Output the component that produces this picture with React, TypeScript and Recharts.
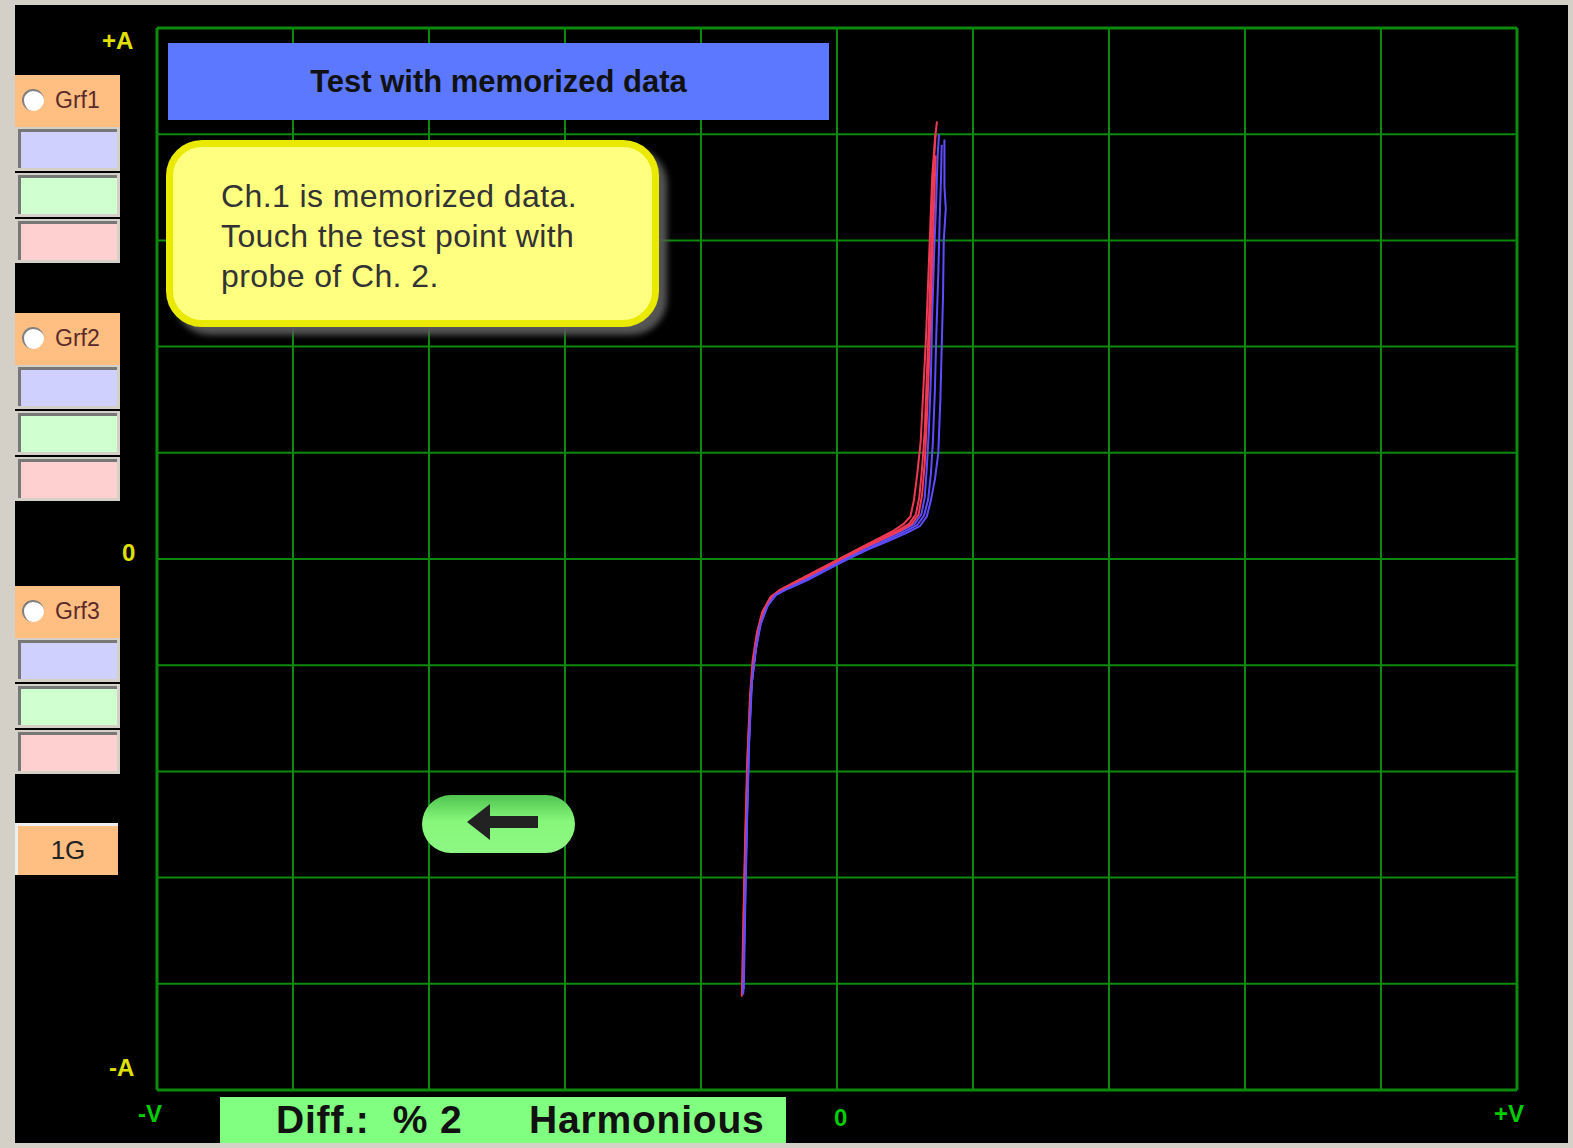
import React from 'react';
import { LineChart, Line, XAxis, YAxis, CartesianGrid, ReferenceLine } from 'recharts';

// grid runs 5 divisions each side of the origin
const GRID_TICKS = [-5, -4, -3, -2, -1, 0, 1, 2, 3, 4, 5];

// Ch.1 memorized traces (red), [V, A] in divisions
const red1: [number, number][] = [
  [-0.7, -4.12], [-0.69, -3.5], [-0.675, -2.6], [-0.66, -1.9], [-0.64, -1.3], [-0.62, -0.95],
  [-0.59, -0.7], [-0.55, -0.5], [-0.49, -0.36], [-0.42, -0.29], [-0.3, -0.21], [-0.15, -0.11],
  [0.0, -0.01], [0.15, 0.09], [0.3, 0.19], [0.42, 0.27], [0.49, 0.33], [0.54, 0.4], [0.565, 0.55],
  [0.59, 0.8], [0.615, 1.1], [0.635, 1.6], [0.655, 2.1], [0.67, 2.6], [0.685, 3.1], [0.7, 3.6],
  [0.72, 3.95], [0.735, 4.12],
];
const red2: [number, number][] = [
  [-0.69, -4.05], [-0.685, -3.3], [-0.67, -2.5], [-0.655, -1.8], [-0.635, -1.25], [-0.61, -0.9],
  [-0.58, -0.66], [-0.54, -0.48], [-0.48, -0.35], [-0.4, -0.28], [-0.28, -0.2], [-0.13, -0.1],
  [0.02, 0.0], [0.17, 0.1], [0.32, 0.19], [0.45, 0.27], [0.53, 0.33], [0.58, 0.42], [0.605, 0.58],
  [0.625, 0.85], [0.645, 1.2], [0.66, 1.7], [0.675, 2.2], [0.69, 2.8], [0.7, 3.3], [0.71, 3.7],
  [0.725, 4.0],
];
const red3: [number, number][] = [
  [-0.69, -4.0], [-0.68, -3.2], [-0.665, -2.3], [-0.65, -1.7], [-0.63, -1.2], [-0.6, -0.88],
  [-0.57, -0.64], [-0.53, -0.47], [-0.47, -0.35], [-0.39, -0.28], [-0.26, -0.2], [-0.11, -0.1],
  [0.04, 0.0], [0.19, 0.1], [0.34, 0.19], [0.47, 0.27], [0.55, 0.33], [0.6, 0.42], [0.625, 0.6],
  [0.645, 0.9], [0.66, 1.3], [0.675, 1.8], [0.69, 2.4], [0.705, 3.0], [0.715, 3.4], [0.725, 3.8],
];

// Ch.2 probe traces (blue)
const blue1: [number, number][] = [
  [-0.69, -4.08], [-0.68, -3.4], [-0.665, -2.5], [-0.65, -1.8], [-0.63, -1.2], [-0.6, -0.86],
  [-0.57, -0.63], [-0.52, -0.45], [-0.46, -0.34], [-0.38, -0.28], [-0.25, -0.2], [-0.1, -0.1],
  [0.05, 0.0], [0.2, 0.1], [0.35, 0.19], [0.48, 0.27], [0.57, 0.33], [0.62, 0.42], [0.645, 0.58],
  [0.66, 0.85], [0.675, 1.2], [0.69, 1.7], [0.7, 2.3], [0.715, 2.9], [0.73, 3.4], [0.74, 3.8],
  [0.75, 4.0],
];
const blue2: [number, number][] = [
  [-0.685, -4.05], [-0.675, -3.3], [-0.66, -2.4], [-0.645, -1.7], [-0.625, -1.15], [-0.595, -0.84],
  [-0.56, -0.61], [-0.51, -0.44], [-0.45, -0.34], [-0.36, -0.28], [-0.22, -0.2], [-0.07, -0.1],
  [0.08, 0.0], [0.23, 0.09], [0.38, 0.17], [0.52, 0.25], [0.61, 0.31], [0.66, 0.4], [0.69, 0.55],
  [0.72, 0.75], [0.745, 1.0], [0.76, 1.5], [0.77, 2.0], [0.78, 2.5], [0.785, 3.0], [0.8, 3.3],
  [0.79, 3.5], [0.79, 3.95],
];
const blue3: [number, number][] = [
  [-0.69, -4.1], [-0.678, -3.35], [-0.662, -2.45], [-0.648, -1.75], [-0.628, -1.18], [-0.598, -0.85],
  [-0.565, -0.62], [-0.515, -0.45], [-0.455, -0.34], [-0.37, -0.28], [-0.235, -0.2], [-0.085, -0.1],
  [0.065, 0.0], [0.215, 0.09], [0.365, 0.18], [0.5, 0.26], [0.59, 0.32], [0.64, 0.41], [0.67, 0.56],
  [0.69, 0.8], [0.705, 1.1], [0.72, 1.6], [0.73, 2.1], [0.745, 2.7], [0.755, 3.2], [0.765, 3.6],
  [0.77, 3.9],
];

const RED = '#f03a55';
const BLUE = '#5e4dff';
const GRID = '#0c8a0c';

const toPoints = (pts: [number, number][]) => pts.map(([v, i]) => ({ v, i }));

const traces = [
  { name: 'red1', pts: red1, color: RED },
  { name: 'blue1', pts: blue1, color: BLUE },
  { name: 'red2', pts: red2, color: RED },
  { name: 'blue2', pts: blue2, color: BLUE },
  { name: 'red3', pts: red3, color: RED },
  { name: 'blue3', pts: blue3, color: BLUE },
];

const labelFont = "'Liberation Sans', Arial, sans-serif";

const GrfGroup = ({ top, label }: { top: number; label: string }) => {
  const fields = ['#d0d0ff', '#d0ffd0', '#ffd0d0'];
  return (
    <>
      <div style={{ position: 'absolute', left: 15, top, width: 105, height: 52, background: '#ffbe82' }}>
        <div style={{
          position: 'absolute', left: 7, top: 14, width: 22, height: 22, borderRadius: '50%',
          background: '#fff', borderTop: '2px solid #808080', borderLeft: '2px solid #808080',
          boxSizing: 'border-box',
        }} />
        <span style={{ position: 'absolute', left: 40, top: 12, fontSize: 23, color: '#5a2a2a', fontFamily: labelFont }}>
          {label}
        </span>
      </div>
      {fields.map((c, k) => (
        <div key={c} style={{ position: 'absolute', left: 15, top: top + 52 + k * 46, width: 105, height: 44, background: '#d4d0c8' }}>
          <div style={{
            position: 'absolute', left: 3, top: 2, width: 99, height: 39, background: c,
            borderTop: '3px solid #777', borderLeft: '3px solid #777', boxSizing: 'border-box',
          }} />
        </div>
      ))}
    </>
  );
};

const axisText = (color: string) => ({
  position: 'absolute' as const, fontFamily: labelFont, fontWeight: 'bold' as const, fontSize: 24,
  color, lineHeight: '24px',
});

export default function App() {
  return (
    <div style={{ position: 'relative', width: 1573, height: 1148, background: '#d4d0c8', overflow: 'hidden', fontFamily: labelFont }}>
      <style>{'body{margin:0}'}</style>
      <div style={{ position: 'absolute', left: 15, top: 5, width: 1553, height: 1138, background: '#000' }} />

      <div style={{ position: 'absolute', left: 0, top: 0 }}>
        <LineChart width={1573} height={1148} margin={{ top: 28, left: 157, right: 56, bottom: 58 }}>
          <XAxis type="number" dataKey="v" domain={[-5, 5]} ticks={GRID_TICKS} hide />
          <YAxis type="number" dataKey="i" domain={[-5, 5]} ticks={GRID_TICKS} hide />
          <CartesianGrid stroke={GRID} strokeWidth={2} />
          <ReferenceLine x={-5} stroke={GRID} strokeWidth={3} />
          <ReferenceLine x={5} stroke={GRID} strokeWidth={3} />
          <ReferenceLine y={-5} stroke={GRID} strokeWidth={3} />
          <ReferenceLine y={5} stroke={GRID} strokeWidth={3} />
          {traces.map((t) => (
            <Line
              key={t.name}
              data={toPoints(t.pts)}
              dataKey="i"
              type="linear"
              stroke={t.color}
              strokeWidth={2}
              dot={false}
              isAnimationActive={false}
            />
          ))}
        </LineChart>
      </div>

      {/* axis captions */}
      <div style={{ ...axisText('#e0e000'), left: 102, top: 29 }}>+A</div>
      <div style={{ ...axisText('#e0e000'), left: 122, top: 541 }}>0</div>
      <div style={{ ...axisText('#e0e000'), left: 109, top: 1056 }}>-A</div>
      <div style={{ ...axisText('#00cc00'), left: 138, top: 1102 }}>-V</div>
      <div style={{ ...axisText('#00cc00'), left: 834, top: 1106 }}>0</div>
      <div style={{ ...axisText('#00cc00'), left: 1494, top: 1102 }}>+V</div>

      {/* left panel */}
      <GrfGroup top={75} label="Grf1" />
      <GrfGroup top={313} label="Grf2" />
      <GrfGroup top={586} label="Grf3" />
      <div style={{
        position: 'absolute', left: 15, top: 823, width: 103, height: 52, background: '#ffbe82',
        borderTop: '3px solid #eee', borderLeft: '3px solid #eee', boxSizing: 'border-box',
        display: 'flex', alignItems: 'center', justifyContent: 'center', fontSize: 26, color: '#222',
      }}>1G</div>

      {/* title */}
      <div style={{
        position: 'absolute', left: 168, top: 43, width: 661, height: 77, background: '#5b78ff',
        display: 'flex', alignItems: 'center', justifyContent: 'center',
        fontWeight: 'bold', fontSize: 31, color: '#111',
      }}>Test with memorized data</div>

      {/* note */}
      <div style={{
        position: 'absolute', left: 166, top: 140, width: 493, height: 187, boxSizing: 'border-box',
        background: '#ffff80', border: '7px solid #eaea00', borderRadius: 36,
        boxShadow: '8px 8px 6px rgba(90,90,90,0.95)',
        padding: '29px 0 0 48px', fontSize: 32, letterSpacing: 0.4, lineHeight: '40px', color: '#333',
      }}>
        Ch.1 is memorized data.<br />Touch the test point with<br />probe of Ch. 2.
      </div>

      {/* back button */}
      <div style={{
        position: 'absolute', left: 422, top: 795, width: 153, height: 58, borderRadius: 29,
        background: 'linear-gradient(#4fc44f, #86f77a 45%, #8ef784)',
      }}>
        <svg width={153} height={58} style={{ position: 'absolute', left: 0, top: 0 }}>
          <path d="M45 27 L68 9 L68 21 L116 21 L116 33 L68 33 L68 45 Z" fill="#222" />
        </svg>
      </div>

      {/* result bar */}
      <div style={{
        position: 'absolute', left: 220, top: 1097, width: 566, height: 46, background: '#80ff80',
        fontSize: 39, fontWeight: 'bold', color: '#111', lineHeight: '46px', whiteSpace: 'pre',
        letterSpacing: 0.8,
      }}>
        <span style={{ position: 'absolute', left: 56 }}>Diff.:  % 2</span>
        <span style={{ position: 'absolute', left: 309 }}>Harmonious</span>
      </div>
    </div>
  );
}
